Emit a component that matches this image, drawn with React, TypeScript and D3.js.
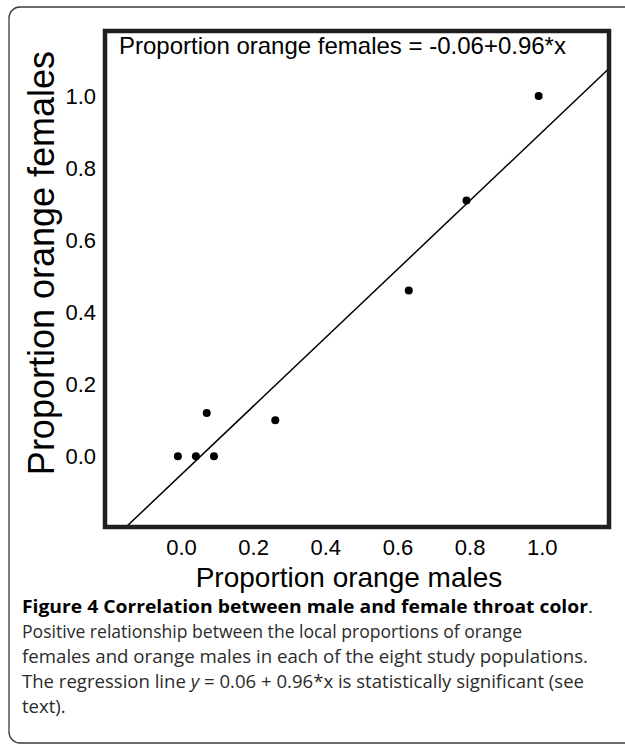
import React from 'react';
import * as d3 from 'd3';

// proportions, one entry per study population
const maleOrange = [-0.01, 0.04, 0.09, 0.07, 0.26, 0.63, 0.79, 0.99];
const femaleOrange = [0.0, 0.0, 0.0, 0.12, 0.1, 0.46, 0.71, 1.0];
const xTicks = [0, 0.2, 0.4, 0.6, 0.8, 1.0];
const yTicks = [0, 0.2, 0.4, 0.6, 0.8, 1.0];
// drawn regression line (intercept, slope)
const fitLine = [-0.05, 0.95];
const equationLabel = 'Proportion orange females = -0.06+0.96*x';

const captionTitle = 'Figure 4 Correlation between male and female throat color';
const captionLines = [
  'Positive relationship between the local proportions of orange',
  'females and orange males in each of the eight study populations.',
];
// widths the caption lines take up in the figure
const titleWidth = 571;
const captionWidths = [500, 566, 562];

export default function App() {
  const width = 625;
  const height = 746;
  const box = { left: 105, top: 31, right: 609, bottom: 527 };

  const x = d3.scaleLinear().domain([-0.212, 1.185]).range([box.left, box.right]);
  const y = d3.scaleLinear().domain([-0.196, 1.18]).range([box.bottom, box.top]);

  const [b0, b1] = fitLine;
  const [xMin, xMax] = x.domain();
  const line = d3
    .line<number>()
    .x((d) => x(d))
    .y((d) => y(b0 + b1 * d));

  const ink = '#231f20';
  const axisFont = '"Liberation Sans", Arial, sans-serif';
  const capFont = '"Open Sans", sans-serif';

  return (
    <svg
      width={width}
      height={height}
      style={{ position: 'absolute', left: 0, top: 0, background: '#fff' }}
    >
      {/* outer frame */}
      <rect x={9} y={7} width={660} height={736} rx={11} fill="none" stroke="#3a3a3a" strokeWidth={1.3} />

      <defs>
        <clipPath id="plotClip">
          <rect x={box.left} y={box.top} width={box.right - box.left} height={box.bottom - box.top} />
        </clipPath>
      </defs>

      <path d={line([xMin, xMax]) || ''} fill="none" stroke="#000" strokeWidth={1.5} clipPath="url(#plotClip)" />

      {maleOrange.map((m, i) => (
        <circle key={i} cx={x(m)} cy={y(femaleOrange[i])} r={4} fill="#000" />
      ))}

      <rect
        x={box.left}
        y={box.top}
        width={box.right - box.left}
        height={box.bottom - box.top}
        fill="none"
        stroke={ink}
        strokeWidth={4.5}
      />

      <text x={119} y={54} fontFamily={axisFont} fontSize={24} fill="#000">
        {equationLabel}
      </text>

      {yTicks.map((t) => (
        <text key={t} x={96} y={y(t)} dy="0.36em" textAnchor="end" fontFamily={axisFont} fontSize={22} fill="#000">
          {d3.format('.1f')(t)}
        </text>
      ))}
      {xTicks.map((t) => (
        <text key={t} x={x(t)} y={555} textAnchor="middle" fontFamily={axisFont} fontSize={22} fill="#000">
          {d3.format('.1f')(t)}
        </text>
      ))}

      <text
        transform="translate(54, 263) rotate(-90)"
        textAnchor="middle"
        fontFamily={axisFont}
        fontSize={36}
        fill="#000"
      >
        Proportion orange females
      </text>
      <text x={349} y={587} textAnchor="middle" fontFamily={axisFont} fontSize={28} fill="#000">
        Proportion orange males
      </text>

      {/* caption */}
      <g fontFamily={capFont} fontSize={18.5} fill="#2b2b2b">
        <text x={22} y={613} textLength={titleWidth} lengthAdjust="spacingAndGlyphs">
          <tspan fontWeight="bold" fill="#000">{captionTitle}</tspan>
          <tspan>.</tspan>
        </text>
        {captionLines.map((l, i) => (
          <text key={i} x={22} y={638 + i * 25} textLength={captionWidths[i]} lengthAdjust="spacingAndGlyphs">
            {l}
          </text>
        ))}
        <text x={22} y={688} textLength={captionWidths[2]} lengthAdjust="spacingAndGlyphs">
          The regression line <tspan fontStyle="italic">y</tspan> = 0.06 + 0.96*x is statistically significant (see
        </text>
        <text x={22} y={713}>
          text).
        </text>
      </g>
    </svg>
  );
}
